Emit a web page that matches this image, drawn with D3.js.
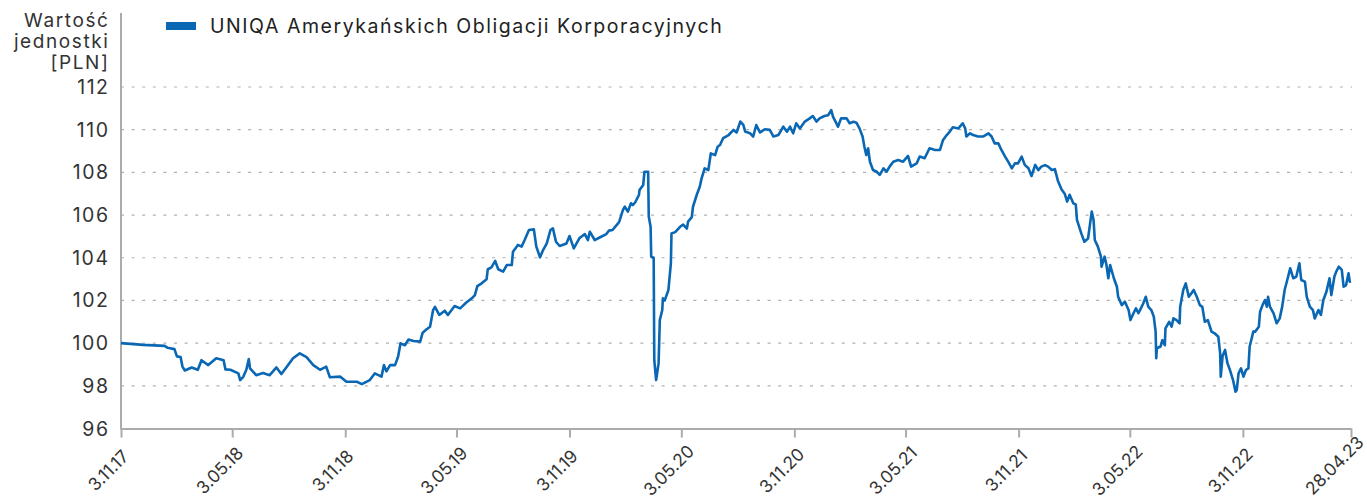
<!DOCTYPE html>
<html><head><meta charset="utf-8">
<script src="https://cdn.jsdelivr.net/npm/d3@7"></script>
<style>
html,body{margin:0;padding:0;background:#fff;}
text{font-family:Inter, "Open Sans", sans-serif;}
</style></head>
<body><svg id="chart" width="1367" height="502"></svg>
<script>
const seriesName = "UNIQA Amerykańskich Obligacji Korporacyjnych";
const yTitle = ["Wartość", "jednostki", "[PLN]"];
const yTicks = [96, 98, 100, 102, 104, 106, 108, 110, 112];
const xTickDates = ["2017-11-03","2018-05-03","2018-11-03","2019-05-03","2019-11-03","2020-05-03","2020-11-03","2021-05-03","2021-11-03","2022-05-03","2022-11-03","2023-04-28"];
const xTickLabels = ["3.11.17","3.05.18","3.11.18","3.05.19","3.11.19","3.05.20","3.11.20","3.05.21","3.11.21","3.05.22","3.11.22","28.04.23"];

const dates = ["2017-11-03","2017-12-09","2018-01-13","2018-01-18","2018-01-29","2018-02-02","2018-02-08","2018-02-11","2018-02-15","2018-02-26","2018-03-08","2018-03-14","2018-03-25","2018-04-07","2018-04-19","2018-04-22","2018-04-30","2018-05-13","2018-05-16","2018-05-21","2018-05-26","2018-05-30","2018-06-01","2018-06-11","2018-06-22","2018-07-03","2018-07-14","2018-07-22","2018-07-30","2018-08-10","2018-08-21","2018-09-01","2018-09-12","2018-09-23","2018-10-03","2018-10-09","2018-10-26","2018-11-05","2018-11-22","2018-11-30","2018-12-13","2018-12-21","2019-01-01","2019-01-05","2019-01-09","2019-01-15","2019-01-23","2019-01-28","2019-02-01","2019-02-08","2019-02-14","2019-02-22","2019-03-05","2019-03-09","2019-03-15","2019-03-21","2019-03-26","2019-03-29","2019-04-05","2019-04-14","2019-04-19","2019-04-30","2019-05-09","2019-05-19","2019-05-28","2019-06-02","2019-06-06","2019-06-13","2019-06-21","2019-06-23","2019-06-29","2019-07-05","2019-07-10","2019-07-18","2019-07-24","2019-08-01","2019-08-03","2019-08-11","2019-08-17","2019-08-22","2019-08-29","2019-09-06","2019-09-10","2019-09-16","2019-09-21","2019-09-27","2019-10-03","2019-10-07","2019-10-12","2019-10-18","2019-10-29","2019-11-03","2019-11-10","2019-11-19","2019-11-28","2019-12-03","2019-12-06","2019-12-14","2019-12-22","2020-01-02","2020-01-06","2020-01-12","2020-01-21","2020-01-23","2020-01-29","2020-02-01","2020-02-06","2020-02-11","2020-02-14","2020-02-18","2020-02-24","2020-02-25","2020-03-02","2020-03-04","2020-03-10","2020-03-11","2020-03-14","2020-03-15","2020-03-19","2020-03-20","2020-03-23","2020-03-27","2020-03-29","2020-04-02","2020-04-03","2020-04-06","2020-04-12","2020-04-16","2020-04-17","2020-04-23","2020-05-01","2020-05-06","2020-05-12","2020-05-14","2020-05-20","2020-05-22","2020-05-28","2020-06-02","2020-06-05","2020-06-10","2020-06-16","2020-06-20","2020-06-27","2020-07-01","2020-07-05","2020-07-10","2020-07-19","2020-07-27","2020-08-01","2020-08-07","2020-08-12","2020-08-15","2020-08-23","2020-08-28","2020-09-02","2020-09-08","2020-09-16","2020-09-24","2020-09-30","2020-10-08","2020-10-16","2020-10-22","2020-10-27","2020-11-01","2020-11-06","2020-11-12","2020-11-20","2020-11-28","2020-12-03","2020-12-09","2020-12-14","2020-12-22","2020-12-28","2021-01-02","2021-01-05","2021-01-09","2021-01-13","2021-01-18","2021-01-27","2021-02-01","2021-02-07","2021-02-12","2021-02-17","2021-02-22","2021-02-25","2021-02-28","2021-03-03","2021-03-06","2021-03-11","2021-03-17","2021-03-22","2021-03-28","2021-04-02","2021-04-07","2021-04-13","2021-04-21","2021-04-29","2021-05-07","2021-05-12","2021-05-21","2021-05-26","2021-06-03","2021-06-11","2021-06-20","2021-06-28","2021-07-03","2021-07-09","2021-07-14","2021-07-19","2021-07-28","2021-08-04","2021-08-08","2021-08-10","2021-08-16","2021-08-21","2021-08-29","2021-09-06","2021-09-15","2021-09-20","2021-09-25","2021-10-01","2021-10-06","2021-10-12","2021-10-17","2021-10-23","2021-10-28","2021-11-02","2021-11-08","2021-11-13","2021-11-19","2021-11-24","2021-11-30","2021-12-05","2021-12-10","2021-12-16","2021-12-21","2021-12-27","2022-01-01","2022-01-06","2022-01-12","2022-01-17","2022-01-21","2022-01-25","2022-01-31","2022-02-04","2022-02-06","2022-02-13","2022-02-18","2022-02-24","2022-03-02","2022-03-05","2022-03-07","2022-03-12","2022-03-17","2022-03-18","2022-03-23","2022-03-26","2022-03-29","2022-04-01","2022-04-07","2022-04-12","2022-04-14","2022-04-20","2022-04-25","2022-05-01","2022-05-04","2022-05-09","2022-05-13","2022-05-17","2022-05-21","2022-05-25","2022-05-29","2022-06-02","2022-06-07","2022-06-11","2022-06-14","2022-06-15","2022-06-16","2022-06-22","2022-06-25","2022-06-29","2022-06-30","2022-07-06","2022-07-10","2022-07-13","2022-07-18","2022-07-23","2022-07-24","2022-07-29","2022-08-02","2022-08-07","2022-08-11","2022-08-15","2022-08-20","2022-08-25","2022-08-29","2022-09-02","2022-09-07","2022-09-13","2022-09-18","2022-09-24","2022-09-27","2022-09-28","2022-10-01","2022-10-05","2022-10-09","2022-10-13","2022-10-18","2022-10-22","2022-10-24","2022-10-27","2022-10-31","2022-11-04","2022-11-08","2022-11-12","2022-11-14","2022-11-18","2022-11-20","2022-11-23","2022-11-29","2022-12-01","2022-12-05","2022-12-09","2022-12-12","2022-12-14","2022-12-17","2022-12-23","2022-12-28","2023-01-02","2023-01-06","2023-01-10","2023-01-15","2023-01-19","2023-01-24","2023-01-29","2023-02-03","2023-02-06","2023-02-12","2023-02-15","2023-02-20","2023-02-25","2023-02-28","2023-03-06","2023-03-10","2023-03-14","2023-03-19","2023-03-24","2023-03-27","2023-04-01","2023-04-04","2023-04-08","2023-04-13","2023-04-16","2023-04-20","2023-04-24","2023-04-26","2023-04-28"];

const values = [100.0,99.92,99.87,99.78,99.72,99.38,99.35,98.9,98.72,98.86,98.75,99.2,98.97,99.29,99.2,98.77,98.75,98.58,98.27,98.42,98.75,99.25,98.82,98.5,98.6,98.5,98.86,98.55,98.86,99.29,99.52,99.34,98.97,98.75,98.9,98.4,98.43,98.19,98.19,98.08,98.27,98.58,98.43,98.97,98.68,98.97,98.97,99.36,99.99,99.9,100.17,100.1,100.07,100.49,100.64,100.77,101.55,101.7,101.32,101.52,101.32,101.74,101.63,101.9,102.1,102.25,102.67,102.8,102.99,103.46,103.55,103.85,103.46,103.35,103.66,103.66,104.28,104.6,104.52,104.83,105.3,105.33,104.52,104.02,104.36,104.67,105.3,105.38,104.75,104.55,104.67,105.02,104.44,104.91,105.11,104.83,105.22,104.83,104.95,105.11,105.27,105.3,105.61,105.69,106.24,106.39,106.16,106.55,106.47,106.6,106.94,107.17,107.41,108.03,108.03,105.93,105.45,104.05,104.0,99.2,98.27,99.05,101.08,101.55,102.1,102.0,102.49,103.74,105.14,105.2,105.45,105.55,105.37,105.69,105.9,106.39,106.94,107.33,107.72,108.19,108.11,108.89,108.81,109.2,109.28,109.6,109.75,109.99,109.87,110.38,110.22,109.91,109.83,109.68,110.22,109.87,110.02,109.99,109.68,109.75,110.14,109.91,110.14,109.83,110.3,110.06,110.38,110.53,110.64,110.38,110.53,110.64,110.68,110.92,110.6,110.38,110.14,110.53,110.53,110.3,110.37,110.33,110.06,109.68,109.2,108.81,109.13,108.5,108.11,108.03,107.88,108.19,108.03,108.27,108.5,108.58,108.5,108.77,108.27,108.42,108.74,108.66,109.13,109.05,109.05,109.52,109.75,109.91,110.11,110.06,110.3,110.06,109.68,109.83,109.75,109.68,109.68,109.83,109.68,109.36,109.36,109.05,108.74,108.5,108.19,108.42,108.42,108.74,108.35,108.19,107.83,108.35,108.11,108.27,108.34,108.27,108.11,108.15,107.6,107.2,107.0,106.63,106.95,106.55,106.5,105.77,105.14,104.75,104.9,106.16,105.77,104.83,104.52,104.05,103.58,104.05,103.66,103.04,103.66,103.04,102.64,102.17,101.78,101.94,101.55,101.08,101.4,101.63,101.4,101.63,101.87,102.17,101.71,101.55,101.24,100.54,99.29,99.76,99.84,100.14,99.9,100.69,101.0,100.77,101.16,101.08,100.93,101.71,102.49,102.8,102.17,102.33,102.49,102.17,101.78,101.7,101.0,101.08,100.54,100.46,100.3,99.52,98.43,99.4,99.68,99.05,98.74,98.27,97.72,97.8,98.58,98.82,98.43,98.74,98.82,99.83,100.3,100.54,100.54,100.77,101.47,101.78,102.02,101.71,102.17,101.71,101.39,100.93,101.16,101.71,102.49,103.04,103.51,103.04,103.12,103.74,102.96,102.88,102.17,101.71,101.55,101.16,101.55,101.32,102.02,102.41,103.04,102.25,103.12,103.35,103.58,103.43,102.64,102.72,103.27,102.88,102.9];

(function () {
const parse = d3.timeParse("%Y-%m-%d");
const data = dates.map((d, i) => ({date: parse(d), value: values[i]}));

const svg = d3.select("#chart");
const mLeft = 121, mRight = 1351, mTop = 87, mBottom = 428.5;
const lineColor = "#0a67b4";
const axisColor = "#ababab";
const textColor = "#333";

const x = d3.scaleTime().domain([parse(xTickDates[0]), parse(xTickDates[xTickDates.length-1])]).range([mLeft, mRight]);
const y = d3.scaleLinear().domain([96, 112]).range([mBottom, mTop]);

svg.append("g").selectAll("line").data(yTicks.filter(t => t > 96)).join("line")
  .attr("x1", mLeft).attr("x2", mRight + 1)
  .attr("y1", d => y(d)).attr("y2", d => y(d))
  .attr("stroke", "#b0b0b0").attr("stroke-width", 1.2).attr("stroke-dasharray", "3,7.6");

svg.append("g").selectAll("text").data(yTicks).join("text")
  .attr("x", 109.5).attr("y", d => y(d)).attr("dy", "0.36em")
  .attr("text-anchor", "end").attr("font-size", 19.5).attr("letter-spacing", 1.5).attr("fill", textColor)
  .text(d => d);

svg.append("g").selectAll("text").data(yTitle).join("text")
  .attr("x", 109.5).attr("y", (d, i) => 26.5 + i * 21)
  .attr("text-anchor", "end").attr("font-size", 19).attr("letter-spacing", 1.6).attr("fill", textColor)
  .text(d => d);

svg.append("line").attr("x1", mLeft).attr("x2", mLeft).attr("y1", 13).attr("y2", mBottom + 1)
  .attr("stroke", axisColor).attr("stroke-width", 2);

const xAxis = d3.axisBottom(x).tickValues(xTickDates.map(parse)).tickSize(9).tickSizeOuter(0).tickFormat((d, i) => xTickLabels[i]);
const gx = svg.append("g").attr("transform", `translate(0,${mBottom})`).call(xAxis);
gx.select(".domain").attr("stroke", axisColor).attr("stroke-width", 2);
gx.selectAll(".tick line").attr("stroke", axisColor).attr("stroke-width", 2);
const nTicks = xTickLabels.length;
gx.selectAll(".tick text")
  .attr("font-size", 17.5).attr("fill", textColor)
  .attr("font-family", "Inter, 'Open Sans', sans-serif")
  .attr("text-anchor", "middle").attr("dy", "0.35em").attr("y", 0)
  .attr("transform", (d, i) => i === nTicks - 1 ? "translate(-17,37) rotate(-45)" : "translate(-13,42) rotate(-45)");

svg.append("path").datum(data)
  .attr("fill", "none").attr("stroke", lineColor).attr("stroke-width", 2.6)
  .attr("stroke-linejoin", "round")
  .attr("d", d3.line().x(d => x(d.date)).y(d => y(d.value)));

svg.append("rect").attr("x", 166).attr("y", 22).attr("width", 30).attr("height", 8).attr("fill", lineColor);
svg.append("text").attr("x", 210).attr("y", 33).attr("font-size", 19.5).attr("letter-spacing", 1.55).attr("fill", "#222").text(seriesName);
})();
</script></body></html>
